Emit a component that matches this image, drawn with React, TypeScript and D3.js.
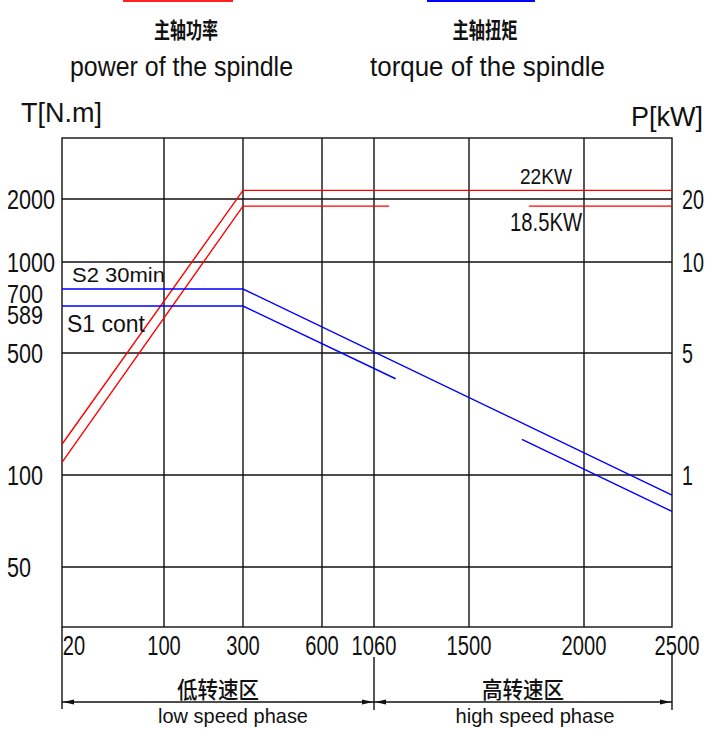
import React from "react";
import * as d3 from "d3";

// ---- data ----
const speedTicks = [20, 100, 300, 600, 1060, 1500, 2000, 2500];
const torqueTicks = [2000, 1000, 700, 589, 500, 100, 50];
const torqueGrid = [2000, 1000, 500, 100, 50];
const powerTicks = [20, 10, 5, 1];

// power curves [rpm, kW]
const power22: [number, number][] = [[20, 1.5], [300, 22], [2500, 22]];
const power185a: [number, number][] = [[20, 1.18], [300, 18.5], [1130, 18.5]];
const power185b: [number, number][] = [[1760, 18.5], [2500, 18.5]];
// torque curves [rpm, N.m]
const torqueS2: [number, number][] = [[20, 700], [300, 700], [2500, 86]];
const torqueS1a: [number, number][] = [[20, 589], [300, 589], [1160, 356]];
const torqueS1b: [number, number][] = [[1730, 160], [2500, 76]];

// ---- layout ----
const W = 706, H = 729;
const LEFT = 62, RIGHT = 672, TOP = 138, BOTTOM = 627;

const x = d3.scaleLinear()
  .domain(speedTicks)
  .range([62, 164, 243, 322, 374, 469, 584, 672]);
const yT = d3.scaleLog()
  .domain([50, 100, 500, 589, 700, 1000, 2000])
  .range([567, 475, 353, 306, 289, 262, 199]);
const yP = d3.scaleLog()
  .domain([1, 5, 10, 20])
  .range([475, 353, 262, 199]);

const lineT = d3.line<[number, number]>().x(d => x(d[0])).y(d => yT(d[1]));
const lineP = d3.line<[number, number]>().x(d => x(d[0])).y(d => yP(d[1]));

const LAT = "'Liberation Sans', Arial, sans-serif";
const CJK = "'Noto Sans CJK SC', sans-serif";
const INK = "#111";

function Txt(props: { x: number; y: number; size: number; len?: number; anchor?: string; cjk?: boolean; weight?: number; children: React.ReactNode }) {
  const { x: tx, y: ty, size, len, anchor = "start", cjk, weight, children } = props;
  return (
    <text x={tx} y={ty} fontSize={size} fontFamily={cjk ? CJK : LAT} fill={INK} fontWeight={weight}
      textAnchor={anchor as any} textLength={len} lengthAdjust={len ? "spacingAndGlyphs" : undefined}>
      {children}
    </text>
  );
}

function Arrow({ tip, dir, y }: { tip: number; dir: 1 | -1; y: number }) {
  const L = 11, h = 2.4;
  const base = tip - dir * L;
  return <path d={`M${tip},${y} L${base},${y - h} L${base},${y + h} Z`} fill={INK} />;
}

export default function App() {
  const vGrid = speedTicks.slice(1, -1);
  const dimY = 702;
  const labelOffsets: Record<number, number> = { 700: 3.5, 589: 7.5 };
  return (
    <svg width={W} height={H} style={{ position: "absolute", left: 0, top: 0, background: "#fff" }}>
      <rect width={W} height={H} fill="#fff" />
      {/* legend */}
      <line x1={123} x2={233} y1={1} y2={1} stroke="#ff2020" strokeWidth={2} />
      <line x1={427} x2={535} y1={1} y2={1} stroke="#0000ff" strokeWidth={2} />
      <Txt x={186} y={38} size={22} len={64} anchor="middle" cjk weight={700}>主轴功率</Txt>
      <Txt x={70} y={76} size={27} len={223}>power of the spindle</Txt>
      <Txt x={485} y={38} size={22} len={65} anchor="middle" cjk weight={700}>主轴扭矩</Txt>
      <Txt x={370} y={76} size={27} len={235}>torque of the spindle</Txt>
      <Txt x={21} y={122} size={27} len={81}>T[N.m]</Txt>
      <Txt x={631} y={126} size={27} len={72}>P[kW]</Txt>

      {/* grid */}
      <g stroke={INK} strokeWidth={1.4}>
        {torqueGrid.map(t => <line key={t} x1={LEFT} x2={RIGHT} y1={yT(t)} y2={yT(t)} />)}
        {vGrid.map(s => <line key={s} x1={x(s)} x2={x(s)} y1={TOP} y2={BOTTOM} />)}
        <rect x={LEFT} y={TOP} width={RIGHT - LEFT} height={BOTTOM - TOP} fill="none" />
      </g>

      {/* curves */}
      <g fill="none" strokeWidth={1.4}>
        {[power22, power185a, power185b].map((d, i) => <path key={"p" + i} d={lineP(d)!} stroke="#ff0000" />)}
        {[torqueS2, torqueS1a, torqueS1b].map((d, i) => <path key={"t" + i} d={lineT(d)!} stroke="#0000ff" />)}
      </g>

      {/* left ticks */}
      {torqueTicks.map(t => {
        const small = t === 700 || t === 589;
        return (
          <Txt key={t} x={7} y={yT(t) + 10 + (labelOffsets[t] || 0)} size={small ? 26 : 27} len={12 * String(t).length}>{t}</Txt>
        );
      })}
      {/* right ticks */}
      {powerTicks.map(p => (
        <Txt key={p} x={682} y={yP(p) + 10} size={27} len={11 * String(p).length}>{p}</Txt>
      ))}
      {/* bottom ticks */}
      {speedTicks.map((s, i) => {
        const n = String(s).length;
        const cx = i === 0 ? x(s) + 12 : i === speedTicks.length - 1 ? x(s) + 5 : x(s);
        return <Txt key={s} x={cx} y={655} size={27} len={11.2 * n} anchor="middle">{s}</Txt>;
      })}

      {/* curve labels */}
      <Txt x={520} y={184} size={22} len={52}>22KW</Txt>
      <Txt x={510} y={231} size={25} len={72}>18.5KW</Txt>
      <Txt x={72} y={282} size={20} len={93}>S2 30min</Txt>
      <Txt x={67} y={332} size={23} len={78}>S1 cont</Txt>

      {/* speed phase dimension */}
      <g stroke={INK} strokeWidth={1.4}>
        <line x1={x(20)} x2={x(20)} y1={BOTTOM} y2={709} />
        <line x1={x(1060)} x2={x(1060)} y1={657} y2={710} />
        <line x1={x(2500)} x2={x(2500)} y1={652} y2={710} />
        <line x1={x(20)} x2={x(2500)} y1={dimY} y2={dimY} />
      </g>
      <Arrow tip={x(20) + 1} dir={-1} y={dimY} />
      <Arrow tip={x(1060) - 1} dir={1} y={dimY} />
      <Arrow tip={x(1060) + 1} dir={-1} y={dimY} />
      <Arrow tip={x(2500) - 1} dir={1} y={dimY} />
      <Txt x={(x(20) + x(1060)) / 2} y={698} size={23} len={82} anchor="middle" cjk weight={500}>低转速区</Txt>
      <Txt x={(x(1060) + x(2500)) / 2} y={698} size={23} len={82} anchor="middle" cjk weight={500}>高转速区</Txt>
      <Txt x={233} y={723} size={21} len={150} anchor="middle">low speed phase</Txt>
      <Txt x={535} y={723} size={21} len={159} anchor="middle">high speed phase</Txt>
    </svg>
  );
}
